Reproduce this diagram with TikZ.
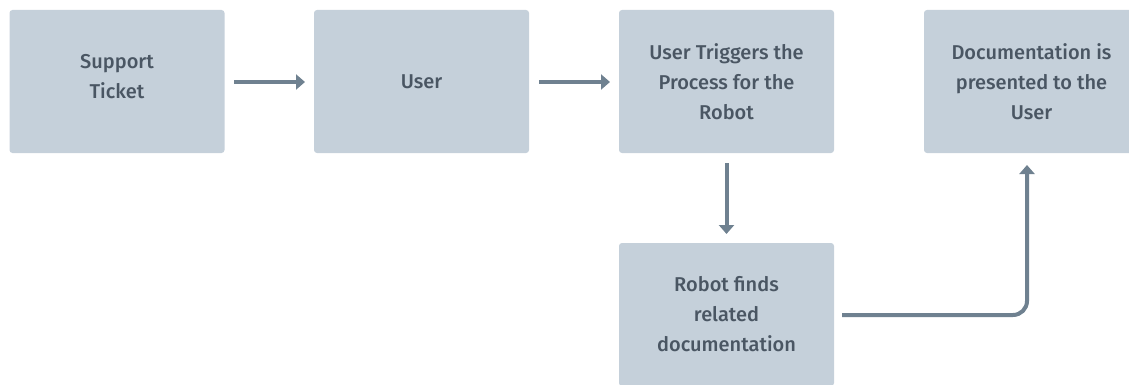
\documentclass[tikz,border=0pt]{standalone}
\usepackage{fontspec}
\setmainfont{Fira Sans Medium}
\usetikzlibrary{arrows.meta}
\definecolor{boxfill}{HTML}{C5D0DA}
\definecolor{arrowcol}{HTML}{6F8190}
\definecolor{txtcol}{HTML}{4A5663}
\begin{document}
\begin{tikzpicture}[x=1pt,y=-1pt,
  stepbox/.style={fill=boxfill, rounded corners=3pt, minimum width=215pt, minimum height=143pt,
    inner sep=0pt},
  lbl/.style={align=center, text=txtcol, font=\fontsize{20}{30}\selectfont, inner sep=0pt},
  conn/.style={draw=arrowcol, line width=4pt, -{Triangle[length=9pt,width=15pt]}}]
\useasboundingbox (0,0) rectangle (1129,385);
\begin{scope}
\clip (0,0) rectangle (1129,385);
\node[stepbox] (a) at (117,81.5) {};
\node[stepbox] (b) at (421.5,81.5) {};
\node[stepbox] (c) at (726.5,81.5) {};
\node[stepbox] (d) at (1031.5,81.5) {};
\node[stepbox] (e) at (726.5,314.5) {};
\end{scope}
\node[lbl] (at) at (117,77) {Support\\Ticket};
\node[lbl] (bt) at (421.5,81.5) {User};
\node[lbl] (ct) at (726.5,81.5) {User Triggers the\\Process for the\\Robot};
\node[lbl] (dt) at (1031.5,81.5) {Documentation is\\presented to the\\User};
\node[lbl] (et) at (726.5,314.5) {Robot finds\\related\\documentation};
\coordinate (a1) at (234,82);
\coordinate (a2) at (305,82);
\coordinate (b1) at (539,82);
\coordinate (b2) at (610,82);
\coordinate (c1) at (726.5,163);
\coordinate (c2) at (726.5,234);
\coordinate (e1) at (842,315);
\coordinate (d1) at (1027,165);
\draw[conn] (a1) -- (a2);
\draw[conn] (b1) -- (b2);
\draw[conn] (c1) -- (c2);
\draw[conn, rounded corners=14pt] (e1) -- (d1 |- e1) -- (d1);
\end{tikzpicture}
\end{document}
